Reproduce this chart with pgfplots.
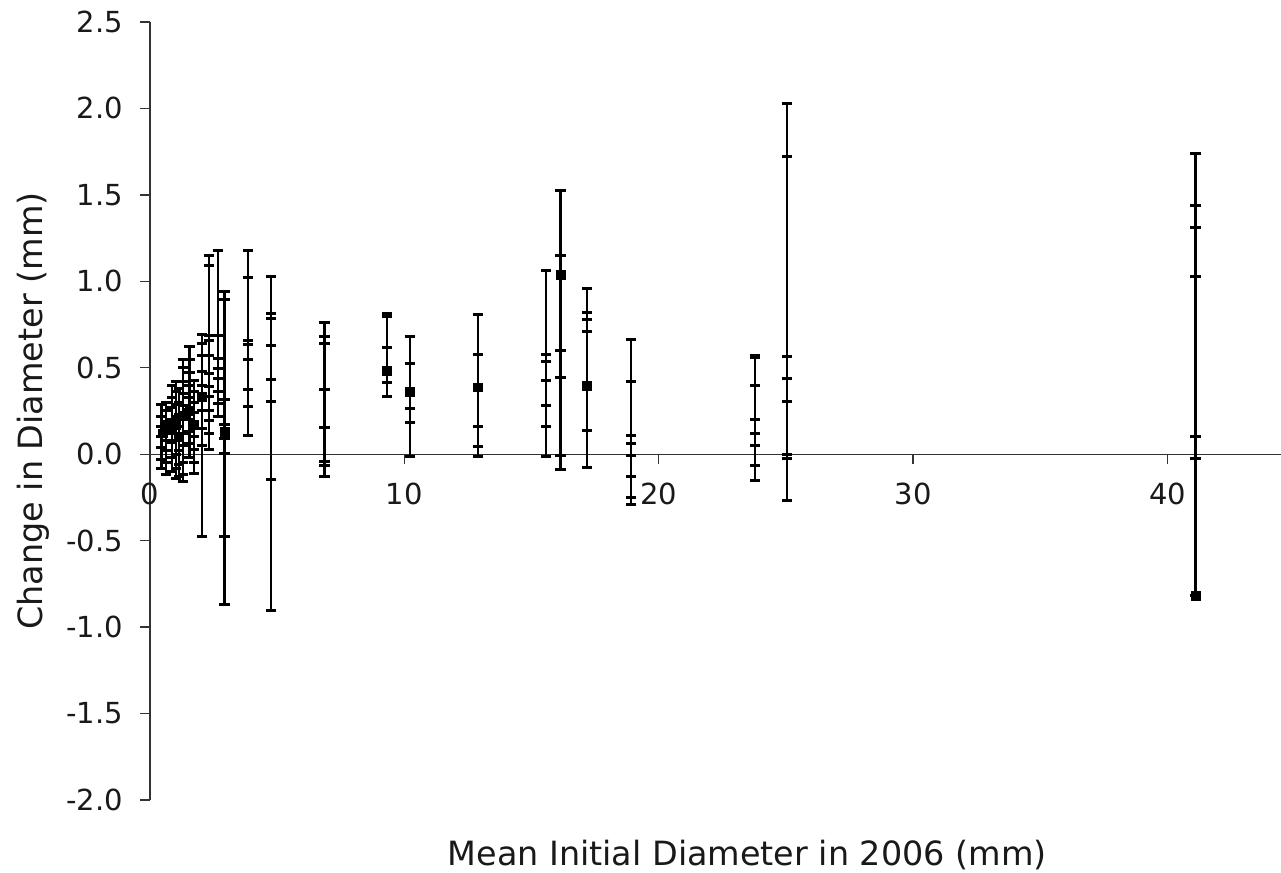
\documentclass[border=0pt]{standalone}
\usepackage{pgfplots}
\pgfplotsset{compat=1.18}
\usepackage{pgfplotstable}
\usepackage{fontspec}
\setmainfont{DejaVu Sans}
\usetikzlibrary{calc}

% x, lower cap, upper cap (each row gives one error bar; several rows per stem)
\pgfplotstableread{
x lo hi
0.45 -0.08 0.29
0.45 -0.03 0.22
0.45 0.04 0.16
0.45 0.10 0.10
0.62 -0.12 0.30
0.62 -0.05 0.25
0.62 0.02 0.19
0.62 0.08 0.14
0.86 -0.10 0.40
0.86 -0.02 0.33
0.86 0.07 0.27
0.86 0.13 0.20
1.02 -0.14 0.42
1.02 -0.08 0.36
1.02 0.00 0.29
1.02 0.08 0.22
1.02 0.15 0.15
1.15 -0.13 0.38
1.15 -0.06 0.30
1.15 0.02 0.23
1.15 0.09 0.16
1.30 -0.16 0.548
1.30 -0.12 0.50
1.30 -0.05 0.42
1.30 0.05 0.35
1.30 0.12 0.28
1.30 0.20 0.20
1.55 -0.02 0.625
1.55 0.06 0.55
1.55 0.13 0.47
1.55 0.20 0.40
1.55 0.26 0.33
1.72 -0.11 0.428
1.72 -0.05 0.36
1.72 0.03 0.30
1.72 0.10 0.24
1.72 0.17 0.17
2.05 -0.478 0.69
2.05 0.05 0.64
2.05 0.15 0.57
2.05 0.25 0.48
2.05 0.33 0.40
2.31 0.03 1.148
2.31 0.12 1.09
2.31 0.197 0.689
2.31 0.25 0.66
2.31 0.332 0.573
2.31 0.394 0.467
2.68 0.216 1.176
2.68 0.293 0.689
2.68 0.361 0.554
2.68 0.438 0.496
2.93 -0.868 0.943
2.93 -0.478 0.897
2.93 0.006 0.318
2.93 0.09 0.17
3.86 0.108 1.18
3.86 0.274 1.02
3.86 0.376 0.66
3.86 0.55 0.636
4.76 -0.903 1.026
4.76 -0.146 0.814
4.76 0.305 0.785
4.76 0.434 0.627
6.86 -0.131 0.76
6.86 -0.068 0.679
6.86 -0.045 0.64
6.86 0.152 0.376
9.32 0.332 0.814
9.32 0.415 0.795
9.32 0.48 0.615
10.21 -0.015 0.683
10.21 0.183 0.525
10.21 0.264 0.36
12.90 -0.012 0.81
12.90 0.042 0.577
12.90 0.158 0.386
15.57 -0.015 1.061
15.57 0.16 0.577
15.57 0.28 0.534
15.57 0.426 0.426
16.14 -0.089 1.528
16.14 -0.006 1.152
16.14 0.444 0.602
17.19 -0.079 0.959
17.19 0.139 0.818
17.19 0.395 0.78
17.19 0.708 0.708
18.92 -0.29 0.664
18.92 -0.25 0.421
18.92 -0.131 0.11
18.92 -0.006 0.062
23.79 -0.15 0.569
23.79 -0.064 0.56
23.79 0.048 0.399
23.79 0.12 0.203
25.04 -0.266 2.03
25.04 -0.025 1.72
25.04 -0.002 0.567
25.04 0.307 0.438
41.10 -0.82 1.742
41.10 -0.025 1.44
41.10 0.10 1.31
41.10 1.03 1.03
}\bars

% mean points (small squares)
\pgfplotstableread{
x y
0.50 0.12
0.65 0.17
0.86 0.14
1.02 0.20
1.15 0.10
1.30 0.22
1.55 0.25
1.72 0.17
2.05 0.33
2.93 0.13
9.32 0.48
10.21 0.36
12.90 0.386
16.14 1.036
17.19 0.395
41.10 -0.82
}\means

\begin{document}
\begin{tikzpicture}
\begin{axis}[
  name=ax,
  scale only axis,
  width=565.5pt, height=389pt,
  xmin=0, xmax=44.46,
  ymin=-2, ymax=2.5,
  axis x line=middle, axis y line=left,
  axis line style={-, draw=black!80, line width=0.7pt},
  hide obscured x ticks=false,
  hide obscured y ticks=false,
  tick align=outside,
  major tick length=5pt,
  tick style={draw=black!80, line width=0.7pt},
  xtick={0,10,20,30,40},
  xticklabels={0,10,20,30,40},
  ytick={-2,-1.5,-1,-0.5,0,0.5,1,1.5,2,2.5},
  yticklabels={-2.0,-1.5,-1.0,-0.5,0.0,0.5,1.0,1.5,2.0,2.5},
  tick label style={font=\fontsize{14.5}{17}\selectfont, text=black!90},
  xticklabel style={yshift=-6pt},
  yticklabel style={xshift=-5pt},
  label style={font=\fontsize{16.7}{19}\selectfont, text=black!90},
  xlabel={Mean Initial Diameter in 2006 (mm)},
  ylabel={Change in Diameter (mm)},
  xlabel style={at={(axis description cs:0.528,-0.0707)}, anchor=center},
  ylabel style={at={(axis description cs:-0.1034,0.5)}, anchor=center},
  clip=false,
]
\addplot[draw=none, mark=none,
  error bars/.cd, y dir=both, y explicit,
  error bar style={draw=black, line width=1.1pt},
  error mark options={draw=black, rotate=90, line width=1.5pt, mark size=2.6pt}]
  table[x=x, y expr={(\thisrow{lo}+\thisrow{hi})/2},
        y error plus expr={(\thisrow{hi}-\thisrow{lo})/2},
        y error minus expr={(\thisrow{hi}-\thisrow{lo})/2}] {\bars};
\addplot[only marks, mark=square*, mark size=2.2pt, black] table[x=x, y=y] {\means};
\end{axis}
\pgfresetboundingbox
\path ($(ax.south west)+(-75pt,-36.5pt)$) rectangle ($(ax.north east)+(0,11pt)$);
\end{tikzpicture}
\end{document}
